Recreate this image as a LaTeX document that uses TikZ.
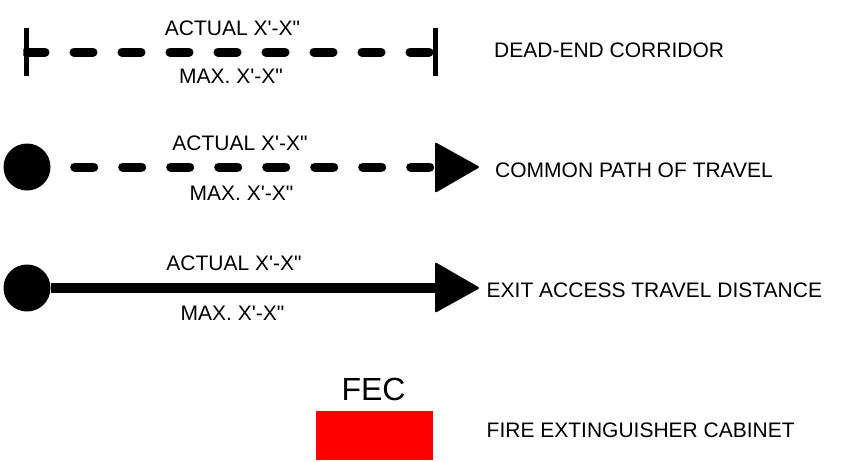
\documentclass[tikz,border=0pt]{standalone}
\usepackage{fontspec}
\setmainfont{Liberation Sans}[Ligatures=TeXOff]
\begin{document}
\begin{tikzpicture}[x=1pt,y=-1pt,
 lbl/.style={font=\fontsize{21}{25}\selectfont, inner sep=0pt, anchor=base},
 desc/.style={font=\fontsize{21}{25}\selectfont, inner sep=0pt, anchor=base west},
 dashline/.style={line width=9pt, line cap=round, dash pattern=on 19pt off 29pt},
 solidline/.style={line width=9.5pt},
 endbar/.style={fill=black, inner sep=0pt, minimum width=5pt, minimum height=48pt},
 dot/.style={circle, fill=black, inner sep=0pt, minimum size=47pt},
 head/.style={fill=black, rounded corners=2pt},
]
\useasboundingbox (0,0) rectangle (849,461);

% Row 1: dead-end corridor
\node[endbar] (b1l) at (26,52) {};
\node[endbar] (b1r) at (435,52) {};
\begin{scope}
\clip (b1l.north west) rectangle (b1r.south east);
\draw[dashline] (b1l.center) -- (b1r.center);
\end{scope}
\node[lbl] (a1) at (232.5,35) {ACTUAL X'-X"};
\node[lbl] (m1) at (231,83) {MAX. X'-X"};
\node[desc] (d1) at (494,57) {DEAD-END CORRIDOR};

% Row 2: common path of travel
\node[dot] (c2) at (27,167) {};
\coordinate (t2) at (435,167);
\fill[head] (435,142) -- (480,167) -- (435,193) -- cycle;
\draw[dashline, dash phase=24pt] (c2) -- (t2);
\node[lbl] (a2) at (240,150) {ACTUAL X'-X"};
\node[lbl] (m2) at (241.5,200) {MAX. X'-X"};
\node[desc] (d2) at (495,177) {COMMON PATH OF TRAVEL};

% Row 3: exit access travel distance
\node[dot] (c3) at (27,288) {};
\coordinate (t3) at (437,288);
\fill[head] (435,262) -- (480,288) -- (435,313) -- cycle;
\draw[solidline] (c3) -- (t3);
\node[lbl] (a3) at (234,270) {ACTUAL X'-X"};
\node[lbl] (m3) at (232.5,320) {MAX. X'-X"};
\node[desc] (d3) at (486.5,297) {EXIT ACCESS TRAVEL DISTANCE};

% FEC
\node[fill=red, inner sep=0pt, minimum width=117pt, minimum height=49pt] (fec) at (374.5,435.5) {};
\node[font=\fontsize{32}{38}\selectfont, inner sep=0pt, anchor=base] (fect) at (373.5,400) {FEC};
\node[desc] (d4) at (486.5,437) {FIRE EXTINGUISHER CABINET};
\end{tikzpicture}
\end{document}
